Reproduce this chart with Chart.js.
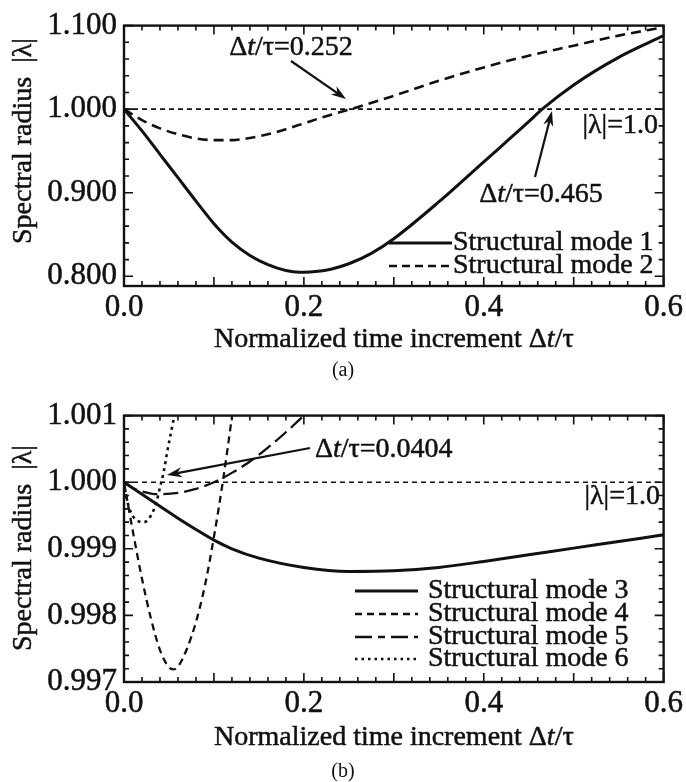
<!DOCTYPE html>
<html><head><meta charset="utf-8">
<script src="https://cdn.jsdelivr.net/npm/chart.js@4.4.1/dist/chart.umd.min.js"></script>
<style>
html,body{margin:0;padding:0;background:#fff;width:686px;height:782px;overflow:hidden}
canvas{position:absolute;left:0}
#ca{top:0}
#cb{top:390px}
.cap{position:absolute;left:0;width:686px;text-align:center;font:20px "Liberation Serif",serif;color:#111;line-height:23px}
</style></head><body>
<canvas id="ca" width="686" height="390"></canvas>
<canvas id="cb" width="686" height="392"></canvas>
<div class="cap" style="top:358px">(a)</div>
<div class="cap" style="top:759px">(b)</div>
<script>
// ---------- data ----------
const xTickLabels = [0.0, 0.2, 0.4, 0.6];
const yTickLabelsA = [0.8, 0.9, 1.0, 1.1];
const yTickLabelsB = [0.997, 0.998, 0.999, 1.000, 1.001];

// panel (a)
const mode1X = [0, 0.02, 0.04, 0.06, 0.08, 0.10, 0.12, 0.14, 0.16, 0.18, 0.195, 0.21, 0.23, 0.25, 0.275, 0.30, 0.35, 0.40, 0.45, 0.465, 0.50, 0.55, 0.60];
const mode1Y = [1.000, 0.974, 0.946, 0.918, 0.890, 0.863, 0.841, 0.825, 0.814, 0.807, 0.805, 0.8055, 0.8085, 0.815, 0.8275, 0.845, 0.889, 0.937, 0.985, 1.000, 1.029, 1.062, 1.088];
const mode2X = [0, 0.02, 0.04, 0.06, 0.08, 0.10, 0.12, 0.14, 0.16, 0.18, 0.20, 0.22, 0.252, 0.30, 0.35, 0.40, 0.45, 0.50, 0.55, 0.60];
const mode2Y = [1.000, 0.987, 0.977, 0.970, 0.965, 0.963, 0.963, 0.9655, 0.970, 0.976, 0.983, 0.990, 1.000, 1.016, 1.034, 1.050, 1.064, 1.076, 1.088, 1.098];
const refAX = [0, 0.6];
const refAY = [1.0, 1.0];

// panel (b)
const mode3X = [0, 0.02, 0.04, 0.06, 0.08, 0.10, 0.12, 0.15, 0.20, 0.25, 0.30, 0.35, 0.40, 0.45, 0.50, 0.55, 0.60];
const mode3Y = [1.0, 0.99982, 0.99964, 0.99946, 0.99929, 0.99913, 0.99900, 0.99886, 0.99872, 0.99866, 0.99867, 0.99872, 0.99881, 0.99891, 0.99901, 0.99911, 0.99921];
const mode4X = [0, 0.01, 0.02, 0.03, 0.04, 0.05, 0.055, 0.06, 0.07, 0.08, 0.09, 0.10, 0.11, 0.12, 0.125];
const mode4Y = [1.0, 0.99925, 0.99855, 0.99795, 0.99748, 0.99722, 0.99719, 0.99723, 0.99750, 0.99790, 0.99845, 0.99918, 1.00002, 1.00098, 1.0015];
const mode5X = [0, 0.01, 0.02, 0.03, 0.04, 0.06, 0.08, 0.10, 0.12, 0.14, 0.16, 0.18, 0.20];
const mode5Y = [1.0, 0.99991, 0.99986, 0.99983, 0.99982, 0.99984, 0.99990, 1.00000, 1.00014, 1.00031, 1.00052, 1.00075, 1.00100];
const mode6X = [0, 0.003, 0.008, 0.015, 0.022, 0.030, 0.036, 0.040, 0.044, 0.048, 0.052, 0.056, 0.058];
const mode6Y = [1.0, 0.99975, 0.99954, 0.99942, 0.99940, 0.99950, 0.99970, 0.99992, 1.00015, 1.00045, 1.00073, 1.00100, 1.00114];
const refBX = [0, 0.6];
const refBY = [1.0, 1.0];

// ---------- helpers ----------
const INK = '#111';
const SERIF = '"Liberation Serif", "Times New Roman", serif';
const TEXT_STROKE = 0.5;
const pts = (xs, ys) => xs.map((x, i) => ({x, y: ys[i]}));

function drawRich(ctx, runs, x, y, align, size) {
  const fonts = runs.map(r => (r[1] ? 'italic ' : '') + size + 'px ' + SERIF);
  let w = 0;
  runs.forEach((r, i) => { ctx.font = fonts[i]; w += ctx.measureText(r[0]).width; });
  let cx = align === 'center' ? x - w / 2 : align === 'right' ? x - w : x;
  ctx.textAlign = 'left'; ctx.textBaseline = 'middle';
  ctx.lineWidth = TEXT_STROKE; ctx.setLineDash([]);
  runs.forEach((r, i) => {
    ctx.font = fonts[i]; ctx.fillText(r[0], cx, y); ctx.strokeText(r[0], cx, y);
    cx += ctx.measureText(r[0]).width;
  });
}
function arrow(ctx, x1, y1, x2, y2) {
  const a = Math.atan2(y2 - y1, x2 - x1), head = 15, hw = 5;
  const c = Math.cos(a), s = Math.sin(a);
  ctx.lineWidth = 2.2;
  ctx.beginPath(); ctx.moveTo(x1, y1); ctx.lineTo(x2 - head * 0.7 * c, y2 - head * 0.7 * s); ctx.stroke();
  ctx.beginPath(); ctx.moveTo(x2, y2);
  ctx.lineTo(x2 - head * c + hw * s, y2 - head * s - hw * c);
  ctx.lineTo(x2 - head * 0.7 * c, y2 - head * 0.7 * s);
  ctx.lineTo(x2 - head * c - hw * s, y2 - head * s + hw * c);
  ctx.closePath(); ctx.fill();
}

const decor = {
  id: 'decor',
  afterDatasetsDraw(chart, args, o) {
    const {ctx, chartArea: ca, scales: {x, y}} = chart;
    ctx.save();
    ctx.strokeStyle = INK; ctx.fillStyle = INK;
    // inward minor/major ticks on all four sides
    ctx.lineWidth = 1.6;
    ctx.beginPath();
    for (let k = 0; k <= 30; k++) {
      const px = x.getPixelForValue(k * 0.02);
      const len = k % 5 === 0 ? 9 : 5;
      ctx.moveTo(px, ca.bottom); ctx.lineTo(px, ca.bottom - len);
      ctx.moveTo(px, ca.top); ctx.lineTo(px, ca.top + len);
    }
    for (let k = 0; k <= o.yMinorCount; k++) {
      const v = o.yMinorStart + k * o.yMinorStep;
      const py = y.getPixelForValue(v);
      if (py < ca.top - 0.5 || py > ca.bottom + 0.5) continue;
      const len = k % 5 === 0 ? 9 : 5;
      ctx.moveTo(ca.left, py); ctx.lineTo(ca.left + len, py);
      ctx.moveTo(ca.right, py); ctx.lineTo(ca.right - len, py);
    }
    ctx.stroke();
    // frame
    ctx.lineWidth = 2.4;
    ctx.strokeRect(ca.left, ca.top, ca.right - ca.left, ca.bottom - ca.top);
    // legend
    o.legend.forEach(item => {
      const ds = chart.data.datasets[item.ds];
      ctx.lineWidth = ds.borderWidth;
      ctx.setLineDash(item.dash || ds.borderDash || []);
      ctx.beginPath(); ctx.moveTo(item.x1, item.y); ctx.lineTo(item.x2, item.y); ctx.stroke();
      ctx.setLineDash([]);
      drawRich(ctx, [[ds.label, false]], item.tx, item.y, 'left', 28);
    });
    // annotations
    o.texts.forEach(t => drawRich(ctx, t.runs, t.x, t.y, t.align, t.size || 28));
    o.arrows.forEach(a => arrow(ctx, a[0], a[1], a[2], a[3]));
    // axis titles
    drawRich(ctx, [['Normalized time increment \u0394', false], ['t', true], ['/\u03c4', false]], (ca.left + ca.right) / 2, o.xTitleY, 'center', 28);
    ctx.save();
    ctx.translate(o.yTitleX, o.yTitleY); ctx.rotate(-Math.PI / 2);
    drawRich(ctx, [['Spectral radius  |\u03bb|', false]], 0, 0, 'center', 28);
    ctx.restore();
    ctx.restore();
  }
};

function makeChart(id, box, yMin, yMax, yTicks, datasets, decorOpts) {
  const cv = document.getElementById(id);
  const H = cv.height, W = cv.width;
  const tickFont = {family: SERIF, size: 31, lineHeight: 1.2};
  return new Chart(cv, {
    type: 'line',
    data: {datasets},
    options: {
      responsive: false, animation: false, devicePixelRatio: 1,
      layout: {padding: {left: 0, top: box.top, right: W - box.right, bottom: 0}},
      plugins: {legend: {display: false}, tooltip: {enabled: false}, decor: decorOpts},
      elements: {point: {radius: 0}, line: {cubicInterpolationMode: 'monotone', borderColor: INK}},
      scales: {
        x: {
          type: 'linear', min: 0, max: 0.6,
          afterFit: s => { s.height = H - box.bottom; },
          afterBuildTicks: s => { s.ticks = xTickLabels.map(v => ({value: v})); },
          grid: {display: false, drawTicks: false}, border: {display: false},
          ticks: {color: INK, textStrokeColor: INK, textStrokeWidth: TEXT_STROKE, padding: 3, font: tickFont, callback: v => v.toFixed(1), maxRotation: 0, autoSkip: false}
        },
        y: {
          type: 'linear', min: yMin, max: yMax,
          afterFit: s => { s.width = box.left; },
          afterBuildTicks: s => { s.ticks = yTicks.map(v => ({value: v})); },
          grid: {display: false, drawTicks: false}, border: {display: false},
          ticks: {color: INK, textStrokeColor: INK, textStrokeWidth: TEXT_STROKE, padding: 7, font: tickFont, callback: v => v.toFixed(3), autoSkip: false}
        }
      }
    },
    plugins: [decor]
  });
}

// ---------- panel (a) ----------
makeChart('ca', {left: 124, right: 665, top: 18, bottom: 286}, 0.7884, 1.1, yTickLabelsA, [
  {label: 'Structural mode 1', data: pts(mode1X, mode1Y), borderColor: INK, borderWidth: 3, borderDash: []},
  {label: 'Structural mode 2', data: pts(mode2X, mode2Y), borderColor: INK, borderWidth: 2.6, borderDash: [10, 6]},
  {label: '|\u03bb|=1.0', data: pts(refAX, refAY), borderColor: INK, borderWidth: 1.6, borderDash: [5, 4], cubicInterpolationMode: 'default', tension: 0}
], {
  yMinorStart: 0.8, yMinorStep: 0.02, yMinorCount: 15,
  legend: [
    {ds: 0, x1: 389, x2: 452, tx: 453, y: 243},
    {ds: 1, x1: 389, x2: 452, tx: 453, y: 266, dash: [8, 5]}
  ],
  texts: [
    {runs: [['\u0394', false], ['t', true], ['/\u03c4=0.252', false]], x: 291, y: 48, align: 'center'},
    {runs: [['\u0394', false], ['t', true], ['/\u03c4=0.465', false]], x: 541, y: 195, align: 'center'},
    {runs: [['|\u03bb|=1.0', false]], x: 658, y: 126, align: 'right'}
  ],
  arrows: [[291, 61, 346, 99], [535, 177, 552, 111]],
  xTitleY: 340, yTitleX: 24, yTitleY: 141
});

// ---------- panel (b) ----------
makeChart('cb', {left: 124, right: 667, top: 23, bottom: 292}, 0.997, 1.001, yTickLabelsB, [
  {label: 'Structural mode 3', data: pts(mode3X, mode3Y), borderColor: INK, borderWidth: 3, borderDash: []},
  {label: 'Structural mode 4', data: pts(mode4X, mode4Y), borderColor: INK, borderWidth: 2.3, borderDash: [7, 5]},
  {label: 'Structural mode 5', data: pts(mode5X, mode5Y), borderColor: INK, borderWidth: 2.3, borderDash: [15, 6]},
  {label: 'Structural mode 6', data: pts(mode6X, mode6Y), borderColor: INK, borderWidth: 2.6, borderDash: [3, 4]},
  {label: '|\u03bb|=1.0', data: pts(refBX, refBY), borderColor: INK, borderWidth: 1.6, borderDash: [5, 4], cubicInterpolationMode: 'default', tension: 0}
], {
  yMinorStart: 0.997, yMinorStep: 0.0002, yMinorCount: 20,
  legend: [
    {ds: 0, x1: 355, x2: 418, tx: 428, y: 201},
    {ds: 1, x1: 355, x2: 418, tx: 428, y: 224},
    {ds: 2, x1: 355, x2: 418, tx: 428, y: 247, dash: [17, 6, 7, 6]},
    {ds: 3, x1: 355, x2: 418, tx: 428, y: 269, dash: [2.5, 4]}
  ],
  texts: [
    {runs: [['\u0394', false], ['t', true], ['/\u03c4=0.0404', false]], x: 315, y: 60, align: 'left'},
    {runs: [['|\u03bb|=1.0', false]], x: 660, y: 107, align: 'right'}
  ],
  arrows: [[310, 58, 167, 85]],
  xTitleY: 348, yTitleX: 24, yTitleY: 158
});
</script>
</body></html>
